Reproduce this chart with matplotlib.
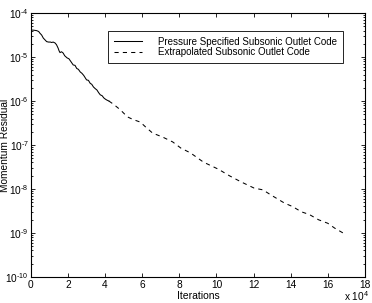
import matplotlib
matplotlib.use("Agg")
import matplotlib.pyplot as plt
import numpy as np
from matplotlib.ticker import LogLocator, NullFormatter, FixedLocator

plt.rcParams['font.family'] = ['Liberation Sans', 'DejaVu Sans']
plt.rcParams['mathtext.fontset'] = 'custom'
plt.rcParams['mathtext.rm'] = 'Liberation Sans'
plt.rcParams['mathtext.it'] = 'Liberation Sans'

# x in units of 1e4 iterations, y as log10 residual
solid_x = [0.0, 0.15, 0.31, 0.42, 0.49, 0.58, 0.67, 0.76, 0.85, 0.95, 1.05, 1.12, 1.2, 1.3,
           1.38, 1.47, 1.52, 1.57, 1.65, 1.74, 1.82, 1.95, 2.05, 2.15, 2.28, 2.38, 2.47,
           2.56, 2.66, 2.75, 2.85, 3.0, 3.1, 3.2, 3.28, 3.37, 3.47, 3.56, 3.65, 3.74,
           3.84, 3.93, 4.02, 4.1, 4.2]
solid_logy = [-4.386, -4.39, -4.40, -4.42, -4.46, -4.50, -4.57, -4.61, -4.65, -4.66, -4.66,
              -4.67, -4.66, -4.68, -4.72, -4.80, -4.86, -4.90, -4.88, -4.91, -4.97, -5.02,
              -5.04, -5.10, -5.18, -5.19, -5.26, -5.28, -5.34, -5.37, -5.42, -5.52, -5.53,
              -5.60, -5.62, -5.68, -5.72, -5.75, -5.81, -5.86, -5.88, -5.93, -5.96, -5.98,
              -6.00]

dash_x = [4.2, 4.44, 4.82, 5.2, 5.5, 5.9, 6.18, 6.56, 7.1, 7.64, 8.08, 8.6, 9.3, 10.1,
          10.7, 11.33, 12.03, 12.5, 12.95, 13.66, 14.1, 14.58, 15.0, 15.5, 16.0, 16.37, 16.9]
dash_logy = [-6.00, -6.07, -6.20, -6.36, -6.42, -6.48, -6.59, -6.73, -6.82, -6.93, -7.07,
             -7.18, -7.39, -7.55, -7.70, -7.84, -7.98, -8.02, -8.14, -8.32, -8.40, -8.52,
             -8.58, -8.70, -8.78, -8.89, -9.02]

xticks = [0, 2, 4, 6, 8, 10, 12, 14, 16, 18]
yexps = [-10, -9, -8, -7, -6, -5, -4]

fig = plt.figure(figsize=(3.72, 3.03), dpi=100)
ax = fig.add_axes([0.083, 0.086, 0.898, 0.871])

ax.semilogy(solid_x, 10.0 ** np.array(solid_logy), '-', color='black', lw=0.75,
            label='Pressure Specified Subsonic Outlet Code')
ax.semilogy(dash_x, 10.0 ** np.array(dash_logy), '--', color='black', lw=0.75,
            dashes=(4, 4), label='Extrapolated Subsonic Outlet Code')

ax.set_xlim(0, 18)
ax.set_ylim(1e-10, 1e-4)
ax.set_xticks(xticks)
ax.set_xticklabels([str(t) for t in xticks])
ax.yaxis.set_major_locator(FixedLocator([10.0 ** e for e in yexps]))
ax.set_yticklabels([r'$10^{\text{%d}}$' % e for e in yexps])
ax.yaxis.set_minor_locator(LogLocator(base=10, subs=np.arange(2, 10), numticks=20))
ax.yaxis.set_minor_formatter(NullFormatter())

ax.tick_params(which='both', direction='in', top=True, right=True, labelsize=7.3,
               width=0.6, colors='black')
ax.tick_params(axis='y', pad=1.5)
ax.tick_params(axis='x', pad=2.5)
ax.tick_params(which='major', length=3)
ax.tick_params(which='minor', length=1.6)
for s in ax.spines.values():
    s.set_linewidth(0.8)

ax.set_xlabel('Iterations', fontsize=7.5)
ax.xaxis.set_label_coords(0.5, -0.074)
ax.xaxis.label.set_va('center')
ax.set_ylabel('Momentum Residual', fontsize=7.3)
ax.yaxis.set_label_coords(-0.077, 0.5)
ax.yaxis.label.set_va('center')
fig.text(369 / 372, 1 - 296 / 303, r'x $10^{4}$', ha='right', va='center', fontsize=7.3)

leg = ax.legend(loc='upper right', bbox_to_anchor=(0.934, 0.932), borderaxespad=0,
                fontsize=7.0, fancybox=False, edgecolor='black', framealpha=1,
                handlelength=2.8, borderpad=0.6, labelspacing=0.05, handletextpad=1.7)
leg.get_frame().set_linewidth(0.6)

fig.savefig('out.png', dpi=100)
